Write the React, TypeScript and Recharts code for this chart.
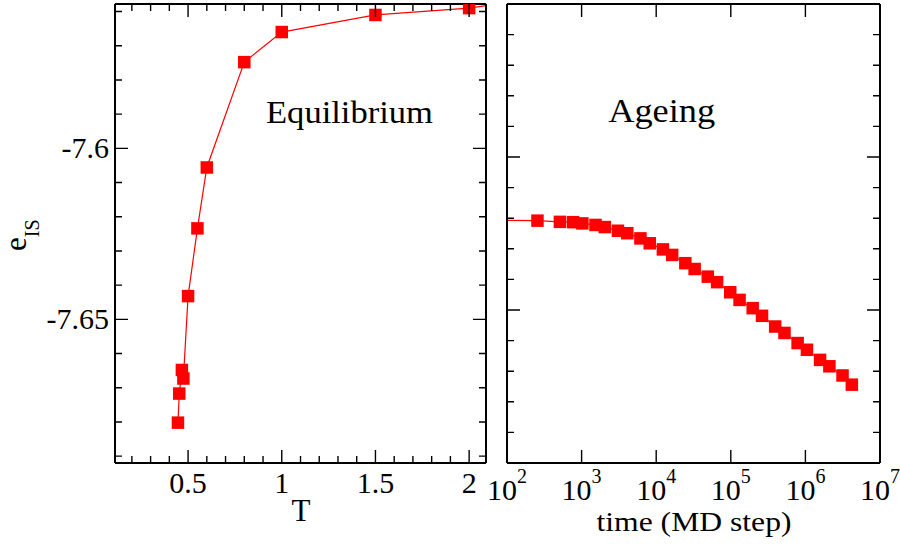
import { LineChart, Line, XAxis, YAxis } from "recharts";

// Equilibrium: e_IS vs T (last point lies outside the frame, line runs to the edge)
const T_EQ = [0.446, 0.453, 0.467, 0.475, 0.5, 0.55, 0.6, 0.8, 1, 1.5, 2, 3];
const E_EQ = [
  -7.6802, -7.6717, -7.6648, -7.6673, -7.6432, -7.6234, -7.6056, -7.5748,
  -7.566, -7.561, -7.559, -7.5512,
];

// Ageing: e_IS vs time (MD step); first point sits left of 10^2
const T_AGE = [
  32, 256, 512, 768, 1024, 1536, 2048, 3072, 4096, 6144, 8192, 12288, 16384,
  24576, 32768, 49152, 65536, 98304, 131072, 196608, 262144, 393216, 524288,
  786432, 1048576, 1572864, 2097152, 3145728, 4194304,
];
const E_AGE = [
  -7.6206, -7.6208, -7.6212, -7.6213, -7.6217, -7.6222, -7.6229, -7.6241,
  -7.6249, -7.6266, -7.6282, -7.6302, -7.632, -7.6347, -7.6366, -7.6391,
  -7.6409, -7.6442, -7.6467, -7.6494, -7.6519, -7.6554, -7.6575, -7.6608,
  -7.663, -7.6663, -7.6684, -7.6714, -7.6744,
];

// ticks
const EQ_X_TICKS = [
  0.2, 0.3, 0.4, 0.5, 0.6, 0.7, 0.8, 0.9, 1, 1.1, 1.2, 1.3, 1.4, 1.5, 1.6,
  1.7, 1.8, 1.9, 2,
];
const EQ_X_MAJOR = [0.5, 1, 1.5, 2];
const EQ_X_LABELS = ["0.5", "1", "1.5", "2"];
const Y_TICKS = [
  -7.56, -7.57, -7.58, -7.59, -7.6, -7.61, -7.62, -7.63, -7.64, -7.65, -7.66,
  -7.67, -7.68, -7.69,
];
const Y_MAJOR = [-7.6, -7.65];
const Y_LABELS = ["-7.6", "-7.65"];
const AGE_X_TICKS = [1e2, 1e3, 1e4, 1e5, 1e6, 1e7];
const AGE_X_EXP = ["2", "3", "4", "5", "6", "7"];

const EQ_X_DOMAIN = [0.11, 2.09];
const EQ_Y_DOMAIN = [-7.692, -7.5578];
const AGE_X_DOMAIN = [1e2, 1e7];
const AGE_Y_DOMAIN = [-7.7, -7.55];

const eqData = T_EQ.map((t, i) => ({ t, e: E_EQ[i] }));
const ageData = T_AGE.map((t, i) => ({ t, e: E_AGE[i] }));

const FONT = "Liberation Serif, Times New Roman, Times, serif";
const RED = "#ff0000";
const MAJOR_LEN = 13;
const MINOR_LEN = 7;

// plot frames: y from 4 to 463; right edges below
const EQ_RIGHT = 486;
const AGE_RIGHT = 880;
const FRAME_MID = (4 + 463) / 2;

const near = (a: number, b: number) => Math.abs(a - b) < 1e-6;
const majorIndex = (v: number, list: number[]) => list.findIndex((m) => near(m, v));

type LabelFn = (i: number, x: number, y: number) => any;

// inward ticks; each left tick is mirrored on the right edge
function makeTick(side: "bottom" | "left", majors: number[], mirror: number, label?: LabelFn) {
  return (props: any) => {
    const { x, y, payload } = props;
    const mi = majorIndex(payload.value, majors);
    const len = mi >= 0 ? MAJOR_LEN : MINOR_LEN;
    const d =
      side === "bottom"
        ? `M${x},${y}V${y - len}`
        : `M${x},${y}H${x + len}M${mirror},${y}H${mirror - len}`;
    return (
      <g>
        <path d={d} stroke="#000" strokeWidth={1.4} fill="none" />
        {mi >= 0 && label ? label(mi, x, y) : null}
      </g>
    );
  };
}

const eqXLabel: LabelFn = (i, x, y) => (
  <text x={x} y={y + 30} textAnchor="middle" fontFamily={FONT} fontSize={30} fill="#000">
    {EQ_X_LABELS[i]}
  </text>
);
const eqYLabel: LabelFn = (i, x, y) => (
  <text x={x - 6} y={y + 10} textAnchor="end" fontFamily={FONT} fontSize={30} fill="#000">
    {Y_LABELS[i]}
  </text>
);
const ageXLabel: LabelFn = (i, x, y) => (
  <text x={x} y={y + 37} textAnchor="middle" fontFamily={FONT} fontSize={30} fill="#000">
    10
    <tspan dy={-17} fontSize={20}>
      {AGE_X_EXP[i]}
    </tspan>
  </text>
);

const squareDot = (domain: number[]) => (props: any) => {
  const { cx, cy, payload, index } = props;
  if (payload.t < domain[0] || payload.t > domain[1]) return <g key={index} />;
  return <rect key={index} x={cx - 6.25} y={cy - 6.25} width={12.5} height={12.5} fill={RED} />;
};

const axisLine = { stroke: "#000", strokeWidth: 2 };
const common = {
  type: "number" as const,
  allowDataOverflow: true,
  interval: 0 as const,
  tickSize: 0,
  tickMargin: 0,
  tickLine: false,
  axisLine,
};

const layer = { position: "absolute" as const, left: 0, top: 0 };
// the top-edge ticks: a copy of the bottom axis, mirrored about the middle of the frame
const flipped = { ...layer, transform: "scaleY(-1)", transformOrigin: `0px ${FRAME_MID}px` };

const EQ_MARGIN = { top: 3, right: 413, bottom: 83, left: 114 };
const AGE_MARGIN = { top: 3, right: 19, bottom: 83, left: 506 };

function TopTicks({ data, margin, xDomain, yDomain, ticks, majors, log }: any) {
  return (
    <div style={flipped}>
      <LineChart width={900} height={547} data={data} margin={margin}>
        <XAxis
          {...common}
          xAxisId="b"
          dataKey="t"
          scale={log ? "log" : "auto"}
          domain={xDomain}
          ticks={ticks}
          height={1}
          axisLine={false}
          tick={makeTick("bottom", majors, 0)}
        />
        <XAxis {...common} xAxisId="t" dataKey="t" orientation="top" scale={log ? "log" : "auto"} domain={xDomain} height={1} tick={false} axisLine={false} />
        <YAxis {...common} yAxisId="l" dataKey="e" domain={yDomain} width={1} tick={false} axisLine={false} />
        <YAxis {...common} yAxisId="r" dataKey="e" orientation="right" domain={yDomain} width={1} tick={false} axisLine={false} />
        <Line xAxisId="b" yAxisId="l" dataKey="e" stroke="none" dot={false} activeDot={false} isAnimationActive={false} />
      </LineChart>
    </div>
  );
}

export default function App() {
  return (
    <div style={{ position: "absolute", left: 0, top: 0, width: 900, height: 547, background: "#fff" }}>
      <div style={layer}>
        <LineChart width={900} height={547} data={ageData} margin={AGE_MARGIN}>
          <XAxis
            {...common}
            xAxisId="b"
            dataKey="t"
            scale="log"
            domain={AGE_X_DOMAIN}
            ticks={AGE_X_TICKS}
            height={1}
            tick={makeTick("bottom", AGE_X_TICKS, 0, ageXLabel)}
            label={{
              content: () => (
                <text x={694} y={531} textAnchor="middle" fontFamily={FONT} fontSize={28} fill="#000" textLength={195} lengthAdjust="spacingAndGlyphs">
                  time (MD step)
                </text>
              ),
            }}
          />
          <XAxis {...common} xAxisId="t" dataKey="t" orientation="top" scale="log" domain={AGE_X_DOMAIN} height={1} tick={false} />
          <YAxis
            {...common}
            yAxisId="l"
            dataKey="e"
            domain={AGE_Y_DOMAIN}
            ticks={Y_TICKS}
            width={1}
            tick={makeTick("left", Y_MAJOR, AGE_RIGHT)}
          />
          <YAxis {...common} yAxisId="r" dataKey="e" orientation="right" domain={AGE_Y_DOMAIN} width={1} tick={false} />
          <Line
            xAxisId="b"
            yAxisId="l"
            dataKey="e"
            stroke={RED}
            strokeWidth={1.2}
            dot={squareDot(AGE_X_DOMAIN)}
            activeDot={false}
            isAnimationActive={false}
          />
          <text x={661.7} y={122} textAnchor="middle" fontFamily={FONT} fontSize={34} fill="#000" textLength={107} lengthAdjust="spacingAndGlyphs">
            Ageing
          </text>
        </LineChart>
      </div>
      <TopTicks data={ageData} margin={AGE_MARGIN} xDomain={AGE_X_DOMAIN} yDomain={AGE_Y_DOMAIN} ticks={AGE_X_TICKS} majors={AGE_X_TICKS} log />
      <div style={layer}>
        <LineChart width={900} height={547} data={eqData} margin={EQ_MARGIN}>
          <XAxis
            {...common}
            xAxisId="b"
            dataKey="t"
            domain={EQ_X_DOMAIN}
            ticks={EQ_X_TICKS}
            height={1}
            tick={makeTick("bottom", EQ_X_MAJOR, 0, eqXLabel)}
            label={{
              content: () => (
                <text x={301} y={521} textAnchor="middle" fontFamily={FONT} fontSize={31} fill="#000">
                  T
                </text>
              ),
            }}
          />
          <XAxis {...common} xAxisId="t" dataKey="t" orientation="top" domain={EQ_X_DOMAIN} height={1} tick={false} />
          <YAxis
            {...common}
            yAxisId="l"
            dataKey="e"
            domain={EQ_Y_DOMAIN}
            ticks={Y_TICKS}
            width={1}
            tick={makeTick("left", Y_MAJOR, EQ_RIGHT, eqYLabel)}
            label={{
              content: () => (
                <g transform="rotate(-90, 25.5, 251)">
                  <text x={25.5} y={251} textAnchor="start" fontFamily={FONT} fontSize={31} fill="#000">
                    e
                    <tspan dy={13} fontSize={20}>
                      IS
                    </tspan>
                  </text>
                </g>
              ),
            }}
          />
          <YAxis {...common} yAxisId="r" dataKey="e" orientation="right" domain={EQ_Y_DOMAIN} width={1} tick={false} />
          <Line
            xAxisId="b"
            yAxisId="l"
            dataKey="e"
            stroke={RED}
            strokeWidth={1.2}
            dot={squareDot(EQ_X_DOMAIN)}
            activeDot={false}
            isAnimationActive={false}
          />
          <text x={349.5} y={122.5} textAnchor="middle" fontFamily={FONT} fontSize={32} fill="#000" textLength={167} lengthAdjust="spacingAndGlyphs">
            Equilibrium
          </text>
        </LineChart>
      </div>
      <TopTicks data={eqData} margin={EQ_MARGIN} xDomain={EQ_X_DOMAIN} yDomain={EQ_Y_DOMAIN} ticks={EQ_X_TICKS} majors={EQ_X_MAJOR} />
    </div>
  );
}
